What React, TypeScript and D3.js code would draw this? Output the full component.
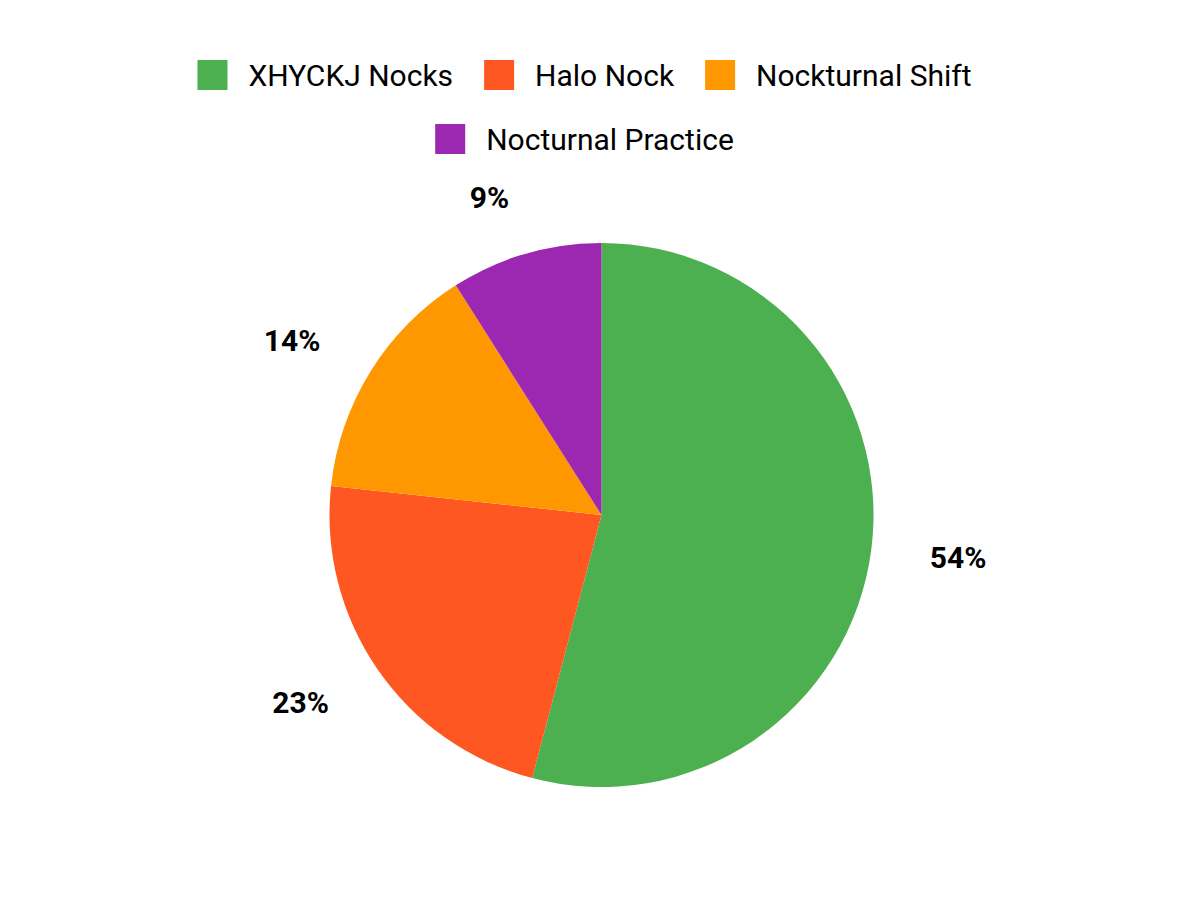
import * as d3 from "d3";
import { useEffect, useRef } from "react";

const CATEGORIES = ["XHYCKJ Nocks", "Halo Nock", "Nockturnal Shift", "Nocturnal Practice"];
const VALUES = [54.1, 22.6, 14.3, 9.0];
const COLORS = ["#4CAF50", "#FF5722", "#FF9800", "#9C27B0"];
const LEGEND_ROWS = [[0, 1, 2], [3]];

const W = 1200;
const H = 900;
const FONT = "Roboto, 'Noto Sans', sans-serif";

export default function App() {
  const svgRef = useRef<SVGSVGElement>(null);

  useEffect(() => {
    const svg = d3.select(svgRef.current);
    svg.selectAll("*").remove();

    const cx = 601.5;
    const cy = 515;
    const r = 272;
    const labelR = 331;

    const total = d3.sum(VALUES);
    const pie = d3
      .pie<number>()
      .sort(null)
      .value((d) => d)(VALUES);
    const arc = d3.arc<d3.PieArcDatum<number>>().innerRadius(0).outerRadius(r);
    const labelArc = d3
      .arc<d3.PieArcDatum<number>>()
      .innerRadius(labelR)
      .outerRadius(labelR);

    const g = svg.append("g").attr("transform", `translate(${cx},${cy})`);

    g.selectAll("path.slice")
      .data(pie)
      .join("path")
      .attr("class", "slice")
      .attr("fill", (_, i) => COLORS[i])
      .attr("d", arc);

    // outside labels, anchored on the side facing away from the pie
    g.selectAll("text.pct")
      .data(pie)
      .join("text")
      .attr("class", "pct")
      .attr("x", (d) => labelArc.centroid(d)[0])
      .attr("y", (d) => labelArc.centroid(d)[1])
      .attr("text-anchor", (d) => (labelArc.centroid(d)[0] < 0 ? "end" : "start"))
      .attr("dominant-baseline", "central")
      .attr("font-family", FONT)
      .attr("font-weight", 700)
      .attr("font-size", 30)
      .attr("fill", "#000")
      .text((d) => `${Math.round((d.value / total) * 100)}%`);

    // legend
    const lg = svg.append("g");
    const rowY = [75, 139];
    LEGEND_ROWS.forEach((row, ri) => {
      const items = row.map((idx) => {
        const t = lg
          .append("text")
          .attr("font-family", FONT)
          .attr("font-size", 30)
          .attr("fill", "#000")
          .attr("dominant-baseline", "central")
          .text(CATEGORIES[idx]);
        const tw = (t.node() as SVGTextElement).getComputedTextLength();
        return { idx, t, tw };
      });
      const totalW = d3.sum(items, (it) => 51 + it.tw + 31);
      let x = W / 2 - totalW / 2;
      items.forEach((it) => {
        lg.append("rect")
          .attr("x", x)
          .attr("y", rowY[ri] - 15)
          .attr("width", 30)
          .attr("height", 30)
          .attr("fill", COLORS[it.idx]);
        it.t.attr("x", x + 51).attr("y", rowY[ri]);
        x += 51 + it.tw + 31;
      });
    });
  }, []);

  return (
    <div style={{ position: "absolute", left: 0, top: 0, width: W, height: H, background: "#fff" }}>
      <svg ref={svgRef} width={W} height={H} />
    </div>
  );
}
